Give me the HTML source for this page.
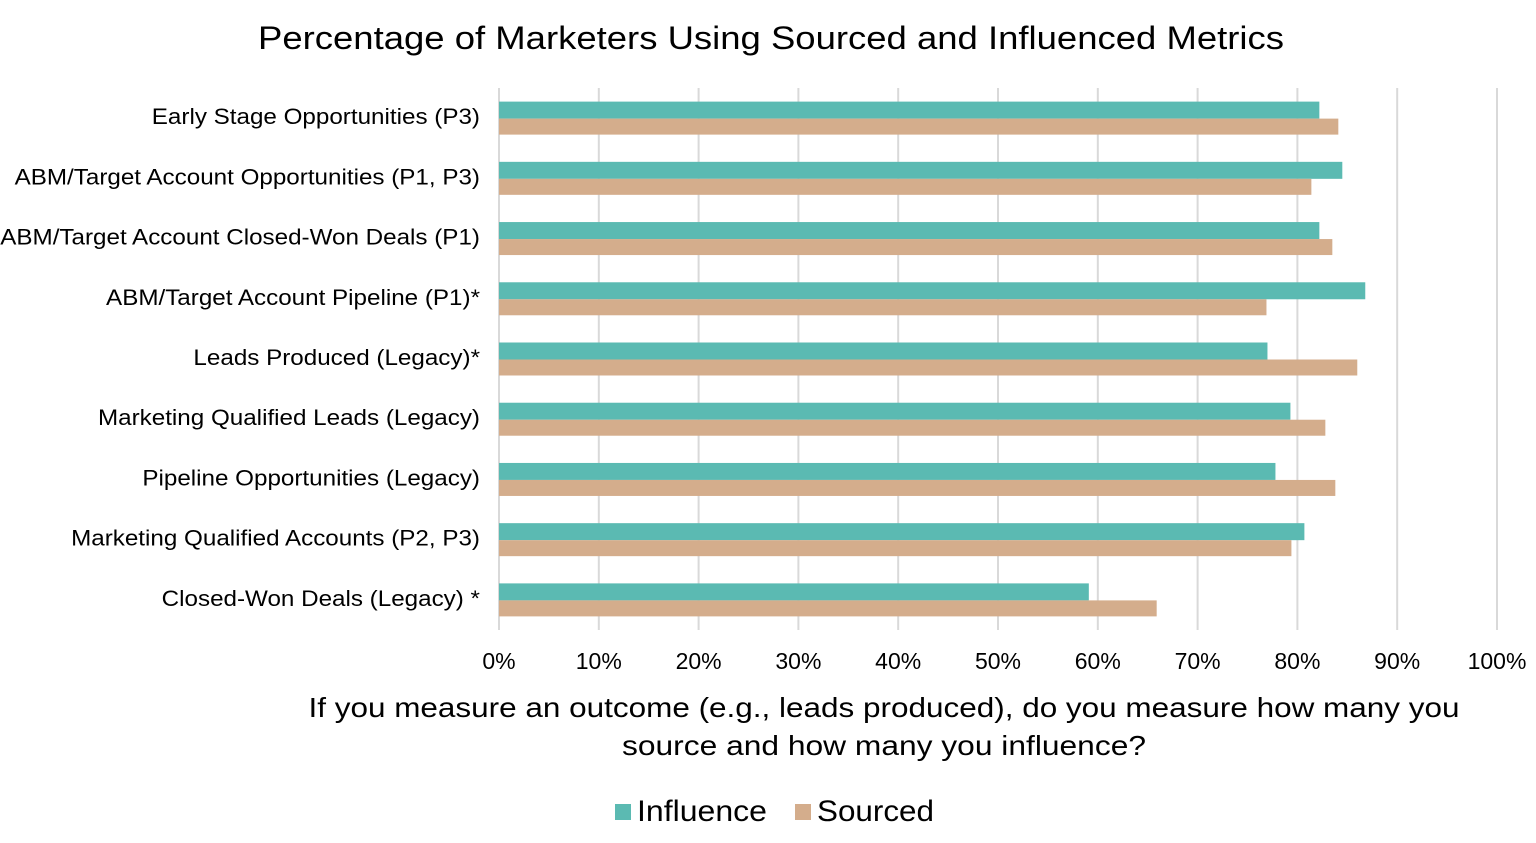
<!DOCTYPE html>
<html><head><meta charset="utf-8"><style>
body{margin:0;background:#fff;font-family:"Liberation Sans",sans-serif}
svg text{font-family:"Liberation Sans",sans-serif;fill:#000}
</style></head><body>
<svg id="chart" width="1536" height="838">
<text x="771" y="49" text-anchor="middle" font-size="32" textLength="1026" lengthAdjust="spacingAndGlyphs">Percentage of Marketers Using Sourced and Influenced Metrics</text>
<g id="grid"></g><g id="bars"></g><g id="labels"></g>
<text x="884" y="717" text-anchor="middle" font-size="28" textLength="1151" lengthAdjust="spacingAndGlyphs">If you measure an outcome (e.g., leads produced), do you measure how many you</text>
<text x="884" y="755" text-anchor="middle" font-size="28" textLength="524" lengthAdjust="spacingAndGlyphs">source and how many you influence?</text>
<g>
<rect x="615" y="804" width="16" height="16" fill="#5bbab2"></rect>
<text x="637" y="821" font-size="30" textLength="130" lengthAdjust="spacingAndGlyphs">Influence</text>
<rect x="795" y="804" width="16" height="16" fill="#d4ad8c"></rect>
<text x="817" y="821" font-size="30" textLength="117" lengthAdjust="spacingAndGlyphs">Sourced</text>
</g>
</svg>
<script>
const categories=["Early Stage Opportunities (P3)","ABM/Target Account Opportunities (P1, P3)","ABM/Target Account Closed-Won Deals (P1)","ABM/Target Account Pipeline (P1)*","Leads Produced (Legacy)*","Marketing Qualified Leads (Legacy)","Pipeline Opportunities (Legacy)","Marketing Qualified Accounts (P2, P3)","Closed-Won Deals (Legacy) *"];
const influence=[82.2,84.5,82.2,86.8,77.0,79.3,77.8,80.7,59.1];
const sourced=[84.1,81.4,83.5,76.9,86.0,82.8,83.8,79.4,65.9];
const ticks=[0,10,20,30,40,50,60,70,80,90,100];
const tickLabels=ticks.map(t=>t+"%");
const NS="http://www.w3.org/2000/svg";
const x0=499,x1=1497,yTop=88,yBot=630;
const xs=v=>x0+(x1-x0)*v/100;
const band=(yBot-yTop)/categories.length;
const grid=document.getElementById('grid'),bars=document.getElementById('bars'),labels=document.getElementById('labels');
ticks.forEach((t,i)=>{
 const l=document.createElementNS(NS,'line');
 l.setAttribute('x1',xs(t));l.setAttribute('x2',xs(t));l.setAttribute('y1',yTop);l.setAttribute('y2',yBot);
 l.setAttribute('stroke','#d9d9d9');l.setAttribute('stroke-width','2');
 
 
 grid.appendChild(l);
 const tx=document.createElementNS(NS,'text');
 tx.setAttribute('x',xs(t));tx.setAttribute('y',669);tx.setAttribute('text-anchor','middle');tx.setAttribute('font-size','23');
 tx.textContent=tickLabels[i];
 
 
 grid.appendChild(tx);
});
categories.forEach((c,i)=>{
 const cy=yTop+band*(i+0.5);
 const a=document.createElementNS(NS,'rect');
 a.setAttribute('x',x0);a.setAttribute('y',cy-16.5);a.setAttribute('width',xs(influence[i])-x0);a.setAttribute('height',17);a.setAttribute('fill','#5bbab2');
 
 
 bars.appendChild(a);
 const b=document.createElementNS(NS,'rect');
 b.setAttribute('x',x0);b.setAttribute('y',cy+0.5);b.setAttribute('width',xs(sourced[i])-x0);b.setAttribute('height',16);b.setAttribute('fill','#d4ad8c');
 
 
 bars.appendChild(b);
 const t=document.createElementNS(NS,'text');
 t.setAttribute('x',480);t.setAttribute('y',cy+6);t.setAttribute('text-anchor','end');t.setAttribute('font-size','22');
 t.textContent=c;
 
 
 labels.appendChild(t);
 const w=t.getComputedTextLength();
 t.setAttribute('textLength',w*1.1);
 t.setAttribute('lengthAdjust','spacingAndGlyphs');
});
</script>
</body></html>
